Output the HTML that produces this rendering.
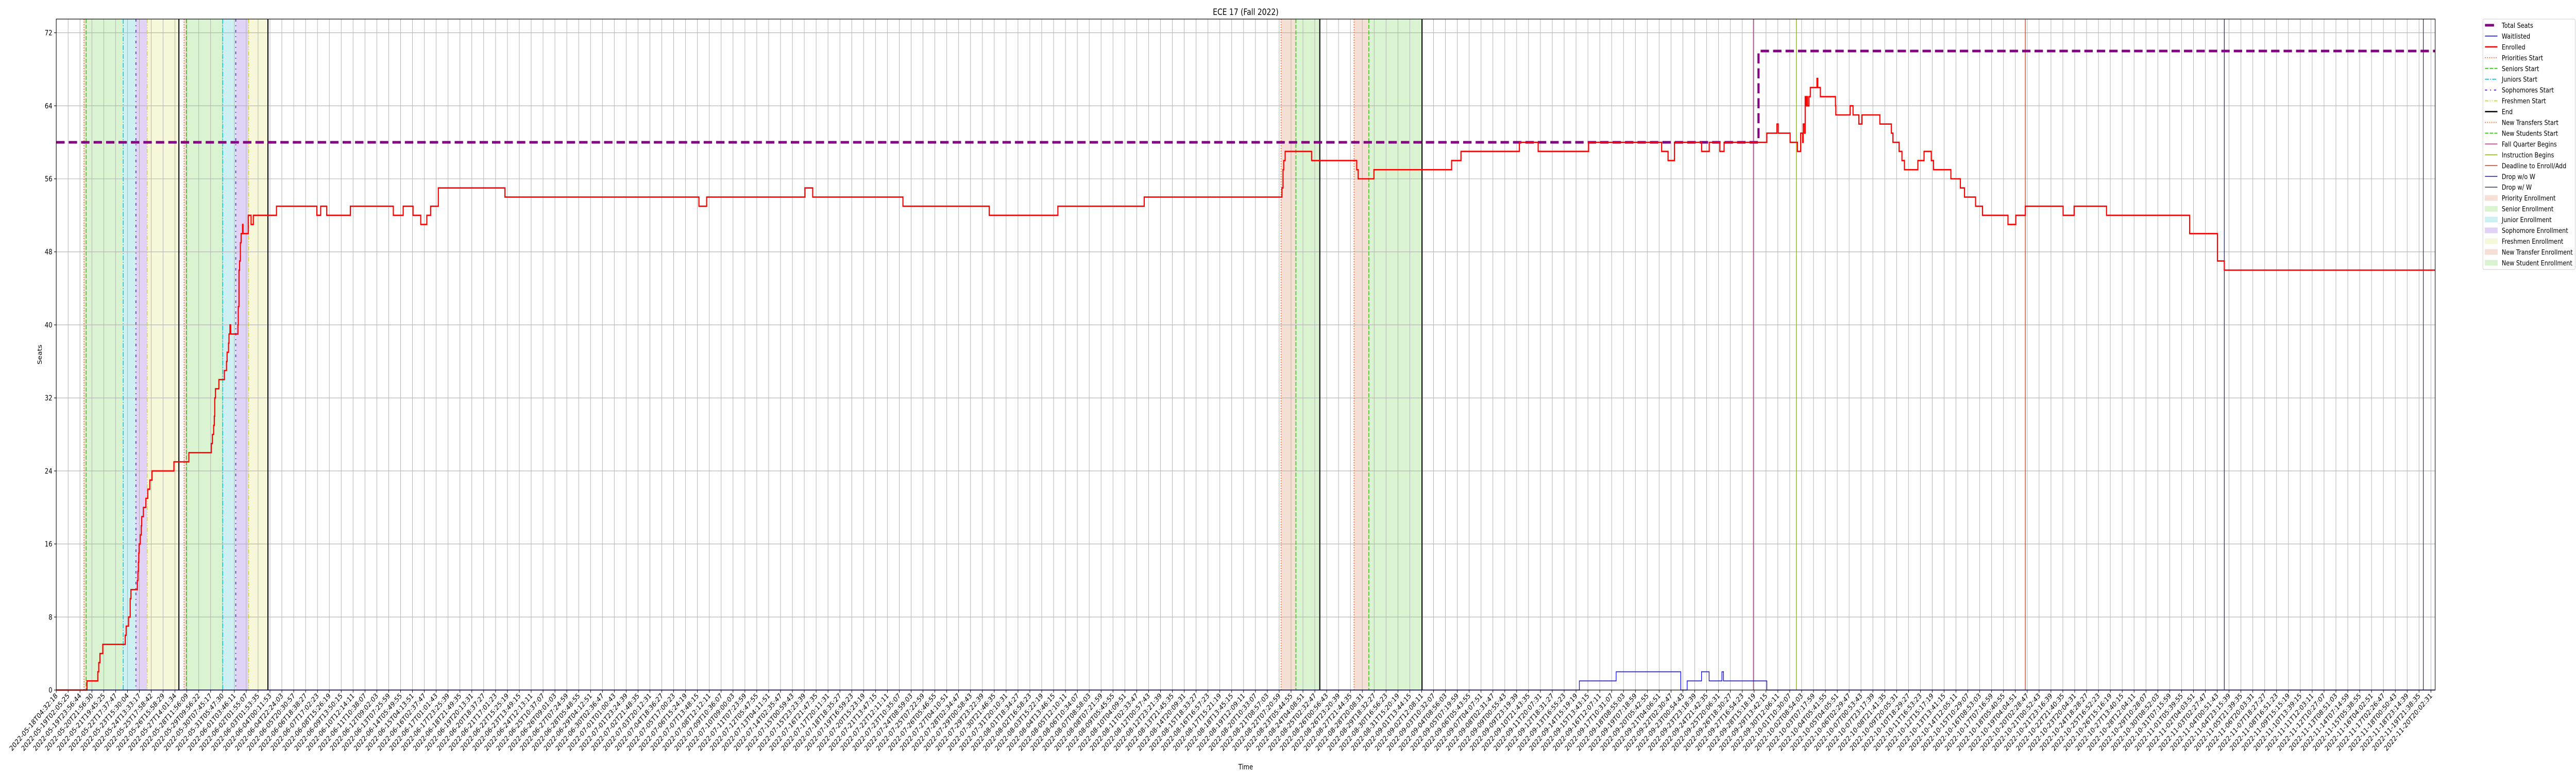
<!DOCTYPE html>
<html><head><meta charset="utf-8"><title>ECE 17 (Fall 2022)</title>
<style>
html,body{margin:0;padding:0;background:#fff;width:100%;height:100%;overflow:hidden;}
svg{display:block;position:absolute;left:0;top:0;width:100vw;height:100vh;font-family:"DejaVu Sans","Liberation Sans",sans-serif;}
</style></head>
<body>
<svg id="chart" viewBox="0 0 6000 1500" preserveAspectRatio="none" xmlns="http://www.w3.org/2000/svg">
<rect x="0" y="0" width="6000" height="1500" fill="#fff"/>
<g id="bands"></g><g id="grid"></g><g id="vlines"></g><g id="series"></g><g id="axes"></g><g id="legend"></g>
</svg>
<script>
// ---- data (x in tick-index units, y in seats) ----
const yTicks = [0, 8, 16, 24, 32, 40, 48, 56, 64, 72];
const readTickLabels = ["2022-05-18T04:32:18","2022-05-19T02:05:25","2022-05-19T23:56:44","2022-05-20T21:56:30","2022-05-21T19:45:25","2022-05-22T17:37:47","2022-05-23T15:30:04","2022-05-24T13:33:17","2022-05-25T17:58:42","2022-05-26T15:58:29","2022-05-27T14:01:34","2022-05-28T11:56:09","2022-05-29T09:56:22","2022-05-30T07:45:17","2022-05-31T05:47:30","2022-06-01T03:46:11","2022-06-02T01:55:07","2022-06-03T01:53:35","2022-06-04T00:11:53","2022-06-04T22:24:03","2022-06-05T20:30:57","2022-06-06T18:38:27"];
const tickCount = 201;
const tickStepSeconds = 80636;
const enrolledX = [0,2.59,3.50,3.58,3.68,3.92,5.81,5.89,6.09,6.23,6.29,6.83,6.88,6.92,6.95,6.98,7.08,7.16,7.20,7.34,7.55,7.71,7.88,8.07,9.91,11.17,13.06,13.15,13.26,13.31,13.35,13.41,13.70,14.16,14.34,14.39,14.51,14.55,14.63,14.69,15.30,15.33,15.39,15.44,15.51,15.57,15.69,15.73,16.17,16.41,16.60,18.55,21.95,22.27,22.78,24.77,28.39,29.22,30.05,30.70,31.21,31.53,32.18,37.79,54.13,54.78,63.06,63.71,71.31,78.58,84.36,91.63,103.23,103.32,103.38,103.50,105.73,109.53,109.65,110.98,117.52,118.31,123.23,124.81,129.06,135.21,135.75,136.29,138.58,139.22,140.11,140.47,144.07,144.92,145.03,146.03,146.65,146.92,147.09,147.13,147.24,147.30,147.35,147.42,147.50,147.62,147.73,148.29,148.36,148.58,149.85,149.88,151.09,151.33,151.82,152.08,153.59,154.56,154.69,155.21,155.45,155.66,156.79,157.31,157.92,158.11,159.57,160.37,160.72,161.65,162.23,164.38,165.04,165.84,169.02,169.95,172.68,179.68,182.02,182.60];
const enrolledY = [0,1,2,3,4,5,6,7,8,10,11,12,13,14,15,16,17,18,19,20,21,22,23,24,25,26,27,28,29,30,32,33,34,35,36,37,38,39,40,39,40,42,46,47,49,50,51,50,52,51,52,53,52,53,52,53,52,53,52,51,52,53,55,54,53,54,55,54,53,52,53,54,55,57,58,59,58,57,56,57,58,59,60,59,60,59,58,60,59,60,59,60,61,62,61,60,59,61,60,62,61,65,64,65,64,65,66,67,66,65,64,63,64,63,62,63,62,61,60,59,58,57,58,59,58,57,56,55,54,53,52,51,52,53,52,53,52,50,47,46];
const waitX = [0,128.28,131.38,136.82,137.36,138.57,139.21,140.29,140.42,144.07];
const waitY = [0,1,2,0,1,2,1,2,1,0];
const seatsX = [0,143.37];
const seatsY = [60,70];
const bandStart = [2.34,2.52,5.64,6.71,7.66,10.77,10.96,14.02,15.12,16.20,103.16,104.41,109.31,110.55];
const bandEnd   = [2.52,5.64,6.71,7.66,10.33,10.96,14.02,15.12,16.20,17.83,104.41,106.42,110.55,115.03];
const bandKind  = ["priority","senior","junior","sophomore","freshmen","priority","senior","junior","sophomore","freshmen","transfer","newstudent","transfer","newstudent"];
const eventX    = [2.34,2.52,5.64,6.71,7.66,10.33,10.77,10.96,14.02,15.12,16.20,17.83,103.16,104.41,106.42,109.31,110.55,115.03,142.94,146.56,165.84,182.60,199.36];
const eventKind = ["priorities","seniors","juniors","sophomores","freshmen","end","priorities","seniors","juniors","sophomores","freshmen","end","transfers","newstudents","end","transfers","newstudents","end","fall","instruction","deadline","dropwo","dropw"];
const xMax = 200.36, yMax = 73.5;

// ---- layout ----
const L = 131, R = 5672, T = 37, B = 1339;
const NS = "http://www.w3.org/2000/svg";
function xs(u){ return L + (R - L) * u / xMax; }
function ys(v){ return B - (B - T) * v / yMax; }
function mk(tag, attrs, parent){ const e = document.createElementNS(NS, tag); for (const k in attrs) e.setAttribute(k, attrs[k]); if (parent) parent.appendChild(e); return e; }

function pad(n){ return String(n).padStart(2,'0'); }
const xTickLabels = readTickLabels.slice();
(function(){
  const last = readTickLabels[readTickLabels.length-1];
  let t = Date.UTC(+last.slice(0,4), +last.slice(5,7)-1, +last.slice(8,10), +last.slice(11,13), +last.slice(14,16), +last.slice(17,19));
  while (xTickLabels.length < tickCount) {
    t += tickStepSeconds * 1000;
    const d = new Date(t);
    xTickLabels.push(d.getUTCFullYear()+"-"+pad(d.getUTCMonth()+1)+"-"+pad(d.getUTCDate())+"T"+pad(d.getUTCHours())+":"+pad(d.getUTCMinutes())+":"+pad(d.getUTCSeconds()));
  }
})();

const bandColor = {priority:"#f6dfd4",senior:"#daf4d2",junior:"#cdf0f2",sophomore:"#e1d3f5",freshmen:"#f7f7da",transfer:"#f6dfd4",newstudent:"#daf4d2"};
const eventStyle = {
  priorities:{c:"#e8703a",w:2,d:"2 3"}, seniors:{c:"#3ccc1a",w:2,d:"8 3"}, juniors:{c:"#1ec8d8",w:2,d:"9 3 2 3"},
  sophomores:{c:"#6a28d8",w:2,d:"5 7 2 7"}, freshmen:{c:"#d8d83a",w:2,d:"8 3 2 3 2 3"}, end:{c:"#000",w:2.5,d:""},
  transfers:{c:"#e8703a",w:2,d:"2 3"}, newstudents:{c:"#3ccc1a",w:2,d:"8 3"}, fall:{c:"#e020a0",w:1.6,d:""},
  instruction:{c:"#8cb020",w:1.6,d:""}, deadline:{c:"#d8401a",w:1.6,d:""}, dropwo:{c:"#2a2a8a",w:1.6,d:""}, dropw:{c:"#2e3f5e",w:1.6,d:""}
};

const gB = document.getElementById('bands'), gG = document.getElementById('grid'), gV = document.getElementById('vlines'),
      gS = document.getElementById('series'), gA = document.getElementById('axes'), gL = document.getElementById('legend');

for (let i = 0; i < bandStart.length; i++) {
  const r = mk('rect', {x: xs(bandStart[i]), y: T, width: xs(bandEnd[i]) - xs(bandStart[i]), height: B - T, fill: bandColor[bandKind[i]]}, gB);
  
  
}
for (let i = 0; i < tickCount; i++) {
  const gl = mk('line', {x1: xs(i), x2: xs(i), y1: T, y2: B, stroke: "#b0b0b0", "stroke-width": 1.1}, gG);
  
  
}
yTicks.forEach(v => {
  const gl = mk('line', {x1: L, x2: R, y1: ys(v), y2: ys(v), stroke: "#b0b0b0", "stroke-width": 1.1}, gG);
  
  
});
for (let i = 0; i < eventX.length; i++) {
  const s = eventStyle[eventKind[i]];
  const a = {x1: xs(eventX[i]), x2: xs(eventX[i]), y1: T, y2: B, stroke: s.c, "stroke-width": s.w};
  if (s.d) a["stroke-dasharray"] = s.d;
  const ln = mk('line', a, gV);
  
  
}
function stepPath(X, Y){
  let d = "M" + xs(X[0]) + "," + ys(Y[0]);
  for (let i = 1; i < X.length; i++) { d += " H" + xs(X[i]) + " V" + ys(Y[i]); }
  d += " H" + xs(xMax);
  return d;
}
const wl = mk('path', {d: stepPath(waitX, waitY), fill: "none", stroke: "#1010ff", "stroke-width": 1.6}, gS);


const ts = mk('path', {d: stepPath(seatsX, seatsY), fill: "none", stroke: "#800080", "stroke-width": 5, "stroke-dasharray": "19.5 9.5"}, gS);


const en = mk('path', {d: stepPath(enrolledX, enrolledY), fill: "none", stroke: "#ff0000", "stroke-width": 2.6}, gS);



const fr = mk('rect', {x: L, y: T, width: R - L, height: B - T, fill: "none", stroke: "#000", "stroke-width": 1.2}, gA);


yTicks.forEach(v => {
  mk('line', {x1: L - 5, x2: L, y1: ys(v), y2: ys(v), stroke: "#000", "stroke-width": 1.1}, gA);
  const t = mk('text', {x: L - 9, y: ys(v) + 5, "text-anchor": "end", "font-size": 13.9, fill: "#000"}, gA);
  t.textContent = v;
  
  
});
for (let i = 0; i < tickCount; i++) {
  const x = xs(i);
  mk('line', {x1: x, x2: x, y1: B, y2: B + 5, stroke: "#000", "stroke-width": 1.1}, gA);
  const t = mk('text', {x: x + 4, y: B + 12, "text-anchor": "end", "font-size": 13.9, fill: "#000", transform: "rotate(-45 " + (x + 4) + " " + (B + 12) + ")"}, gA);
  t.textContent = xTickLabels[i];
  
  
}
const title = mk('text', {x: (L + R) / 2, y: 29, "text-anchor": "middle", "font-size": 16.7, fill: "#000"}, gA);
title.textContent = "ECE 17 (Fall 2022)";


const yl = mk('text', {x: 97, y: (T + B) / 2, "text-anchor": "middle", "font-size": 13.9, fill: "#000", transform: "rotate(-90 97 " + (T + B) / 2 + ")"}, gA);
yl.textContent = "Seats";


const xl = mk('text', {x: (L + R) / 2, y: 1493, "text-anchor": "middle", "font-size": 13.9, fill: "#000"}, gA);
xl.textContent = "Time";



const legendLabels = ["Total Seats","Waitlisted","Enrolled","Priorities Start","Seniors Start","Juniors Start","Sophomores Start","Freshmen Start","End","New Transfers Start","New Students Start","Fall Quarter Begins","Instruction Begins","Deadline to Enroll/Add","Drop w/o W","Drop w/ W","Priority Enrollment","Senior Enrollment","Junior Enrollment","Sophomore Enrollment","Freshmen Enrollment","New Transfer Enrollment","New Student Enrollment"];
const legendKeys = ["seats","wait","enr","priorities","seniors","juniors","sophomores","freshmen","end","transfers","newstudents","fall","instruction","deadline","dropwo","dropw","b:priority","b:senior","b:junior","b:sophomore","b:freshmen","b:transfer","b:newstudent"];
const lb = mk('rect', {x: 5783, y: 37, width: 215, height: 486, rx: 3, fill: "#fff", "fill-opacity": 0.85, stroke: "#cccccc", "stroke-width": 1}, gL);


legendLabels.forEach((lab, i) => {
  const y = 49 + i * 20.95;
  const k = legendKeys[i];
  const g = mk('g', {}, gL);
  
  
  if (k.startsWith('b:')) {
    mk('rect', {x: 5788, y: y - 5, width: 29, height: 10, fill: bandColor[k.slice(2)], stroke: bandColor[k.slice(2)]}, g);
  } else if (k === 'seats') {
    mk('line', {x1: 5788, x2: 5809, y1: y, y2: y, stroke: "#800080", "stroke-width": 5}, g);
  } else if (k === 'wait') {
    mk('line', {x1: 5788, x2: 5817, y1: y, y2: y, stroke: "#1010ff", "stroke-width": 1.6}, g);
  } else if (k === 'enr') {
    mk('line', {x1: 5788, x2: 5817, y1: y, y2: y, stroke: "#ff0000", "stroke-width": 2.6}, g);
  } else {
    const s = eventStyle[k];
    const a = {x1: 5788, x2: 5817, y1: y, y2: y, stroke: s.c, "stroke-width": s.w};
    if (s.d) a["stroke-dasharray"] = s.d;
    mk('line', a, g);
  }
  const t = mk('text', {x: 5827, y: y + 5, "font-size": 13.5, fill: "#000"}, g);
  t.textContent = lab;
});
</script>
</body></html>
